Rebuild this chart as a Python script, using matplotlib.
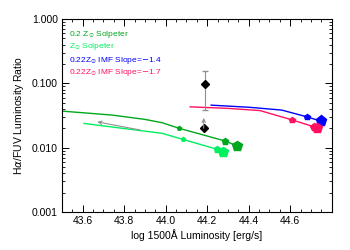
import matplotlib
matplotlib.use("Agg")
import matplotlib.pyplot as plt
from matplotlib.ticker import FixedLocator, MultipleLocator, LogLocator, NullFormatter

# Data
dg_x = [43.50, 43.742, 43.90, 43.983, 44.065, 44.286, 44.344]
dg_y = [0.0370, 0.0321, 0.0275, 0.0244, 0.0200, 0.0127, 0.0107]
lg_x = [43.606, 43.983, 44.083, 44.248, 44.278]
lg_y = [0.0238, 0.0167, 0.01345, 0.00942, 0.00863]
bl_x = [44.219, 44.400, 44.559, 44.680, 44.747]
bl_y = [0.0458, 0.0425, 0.0384, 0.0302, 0.0259]
rd_x = [44.118, 44.300, 44.455, 44.611, 44.715, 44.731]
rd_y = [0.0431, 0.0408, 0.0377, 0.0269, 0.0211, 0.0200]

# marker points (x, y, size)
dg_mk = [(44.065, 0.0200, 3), (44.286, 0.0127, 5), (44.344, 0.0107, 7)]
lg_mk = [(44.083, 0.01345, 3), (44.248, 0.00942, 5), (44.278, 0.00863, 7)]
bl_mk = [(44.680, 0.0302, 4), (44.747, 0.0259, 8)]
rd_mk = [(44.611, 0.0269, 4), (44.715, 0.0211, 6), (44.731, 0.0200, 7)]

obs_x = [44.187]
obs_y = [0.097]
obs_lo = [0.0384]
obs_hi = [0.158]
lim_x = [44.183]
lim_y = [0.020]
lim_top = [0.029]

arrow_from = (43.877, 0.0188)
arrow_to = (43.670, 0.0252)

legend_labels = [r"0.2 Z$_{\odot}$ Solpeter", r"Z$_{\odot}$ Solpeter",
                 r"0.22Z$_{\odot}$ IMF Slope=$-$1.4", r"0.22Z$_{\odot}$ IMF Slope=$-$1.7"]
c_dg = "#00a81e"
c_lg = "#00f060"
c_bl = "#0000ff"
c_rd = "#ff1060"
colors = [c_dg, c_lg, c_bl, c_rd]

yticks = [0.001, 0.01, 0.1, 1.0]
ytick_labels = ["0.001", "0.010", "0.100", "1.000"]
xticks = [43.6, 43.8, 44.0, 44.2, 44.4, 44.6]

plt.rcParams['font.family'] = ['Liberation Sans', 'DejaVu Sans']
plt.rcParams['mathtext.fontset'] = 'dejavusans'

fig = plt.figure(figsize=(3.5, 2.5), dpi=100)
ax = fig.add_axes([62/350, 1 - 212/250, (331.7 - 62)/350, (212 - 19)/250])

for xs, ys, c, mks in [(dg_x, dg_y, c_dg, dg_mk), (lg_x, lg_y, c_lg, lg_mk),
                       (bl_x, bl_y, c_bl, bl_mk), (rd_x, rd_y, c_rd, rd_mk)]:
    ax.plot(xs, ys, color=c, lw=1.0)
    for mx, my, ms in mks:
        ax.plot([mx], [my], marker='p', color=c, ms=ms, mec=c, ls='none')

ax.annotate("", xy=arrow_to, xytext=arrow_from,
            arrowprops=dict(arrowstyle='->', color='#909090', lw=0.8, mutation_scale=6,
                            shrinkA=0, shrinkB=0))

ax.errorbar(obs_x, obs_y, yerr=[[obs_y[0] - obs_lo[0]], [obs_hi[0] - obs_y[0]]],
            fmt='D', color='black', ms=4.5, ecolor='#909090', elinewidth=0.8, capsize=2.5)
ax.plot(lim_x, lim_y, marker='D', color='black', ms=4.5, ls='none')
ax.annotate("", xy=(lim_x[0], lim_top[0]), xytext=(lim_x[0], lim_y[0]),
            arrowprops=dict(arrowstyle='->', color='#909090', lw=0.8, mutation_scale=6,
                            shrinkA=0, shrinkB=0))

ax.set_yscale('log')
ax.set_xlim(43.5, 44.8)
ax.set_ylim(0.001, 1.0)
ax.xaxis.set_major_locator(FixedLocator(xticks))
ax.xaxis.set_minor_locator(MultipleLocator(0.05))
ax.set_xticklabels([f"{t:.1f}" for t in xticks])
ax.yaxis.set_major_locator(FixedLocator(yticks))
ax.set_yticklabels(ytick_labels)
ax.yaxis.set_minor_locator(LogLocator(base=10, subs=range(2, 10)))
ax.yaxis.set_minor_formatter(NullFormatter())
ax.tick_params(which='both', direction='in', top=True, right=True, labelsize=7.5, pad=3)
ax.tick_params(which='major', length=5, width=0.7)
ax.tick_params(which='minor', length=2.5, width=0.6)
for s in ax.spines.values():
    s.set_linewidth(0.8)

ax.set_xlabel("log 1500Å Luminosity [erg/s]", fontsize=7.5, labelpad=2)
ax.set_ylabel(r"H$\alpha$/FUV Luminosity Ratio", fontsize=7.5, labelpad=4)

# legend texts placed in figure pixels (from top-left)
for i, (lab, c) in enumerate(zip(legend_labels, colors)):
    fig.text(69 / 350, 1 - (34 + 13 * i) / 250, lab, color=c, fontsize=6.0,
             va='center', ha='left')

fig.savefig("out.png", dpi=100)
